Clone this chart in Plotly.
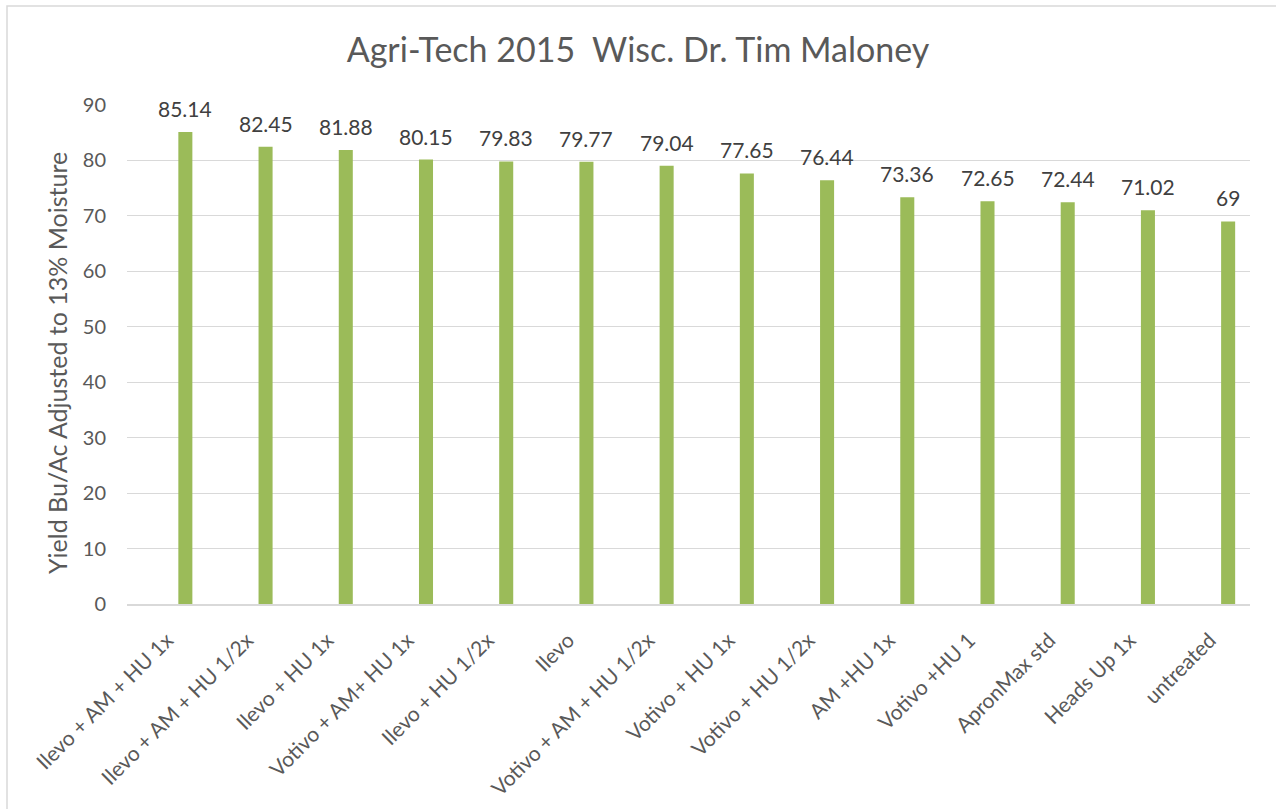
import plotly.graph_objects as go

categories = ["Ilevo + AM + HU 1x", "Ilevo + AM + HU 1/2x", "Ilevo + HU 1x", "Votivo + AM+ HU 1x",
              "Ilevo + HU 1/2x", "Ilevo", "Votivo + AM + HU 1/2x", "Votivo + HU 1x",
              "Votivo + HU 1/2x", "AM +HU 1x", "Votivo +HU 1", "ApronMax std", "Heads Up 1x", "untreated"]
yields = [85.14, 82.45, 81.88, 80.15, 79.83, 79.77, 79.04, 77.65, 76.44, 73.36, 72.65, 72.44, 71.02, 69]
y_ticks = [0, 10, 20, 30, 40, 50, 60, 70, 80, 90]

FONT = "Lato"
TXT = "#595959"
W, H = 1276, 809
L, R, T, B = 127, 26, 105, 205
PW, PH = W - L - R, H - T - B
BAR_W, BAR_OFF = 0.175, 0.14

positions = list(range(len(categories)))

fig = go.Figure(go.Bar(
    x=positions, y=yields, width=BAR_W, offset=BAR_OFF,
    marker=dict(color="#9BBB59", line=dict(width=0)),
    hoverinfo="x+y",
))

for p, v in zip(positions, yields):
    fig.add_annotation(x=p + BAR_OFF + BAR_W / 2, y=v, text=f"{v:g}", showarrow=False,
                       xanchor="center", yanchor="bottom", yshift=9,
                       font=dict(family=FONT, size=21, color="#404040"))

fig.add_annotation(text="Yield Bu/Ac Adjusted to 13% Moisture", xref="paper", yref="paper",
                   x=(57 - L) / PW, y=(H - B - 363) / PH, xanchor="center", yanchor="middle",
                   textangle=-90, showarrow=False, font=dict(family=FONT, size=25, color=TXT))

fig.update_layout(
    width=W, height=H,
    margin=dict(l=L, r=R, t=T, b=B),
    paper_bgcolor="white", plot_bgcolor="white",
    showlegend=False,
    title=dict(text="Agri-Tech 2015  Wisc. Dr. Tim Maloney", x=0.5, xanchor="center",
               y=1 - 50 / H, yanchor="middle",
               font=dict(family=FONT, size=34, color=TXT)),
    font=dict(family=FONT, color=TXT),
)
fig.update_yaxes(range=[0, 90], tickvals=y_ticks, showgrid=True, gridcolor="#D9D9D9", gridwidth=1,
                 zeroline=False, showline=False, ticks="", tickfont=dict(size=20, color=TXT),
                 ticklabelstandoff=20, automargin=False)
fig.update_xaxes(range=[-0.5, len(categories) - 0.5], tickvals=positions, ticktext=categories,
                 showline=True, linecolor="#D9D9D9", linewidth=1.5, tickangle=-45, ticks="",
                 tickfont=dict(size=21, color=TXT), showgrid=False, zeroline=False,
                 ticklabelstandoff=14, automargin=False)

fig.add_shape(type="rect", xref="paper", yref="paper",
              x0=(7 - L) / PW, x1=(W + 20 - L) / PW,
              y0=(H - B - (H + 20)) / PH, y1=(H - B - 6) / PH,
              line=dict(color="#D9D9D9", width=1.5), fillcolor="rgba(0,0,0,0)", layer="below")

fig.write_html("out.html", config={"displayModeBar": False},
               post_script="document.body.style.margin='0';")
